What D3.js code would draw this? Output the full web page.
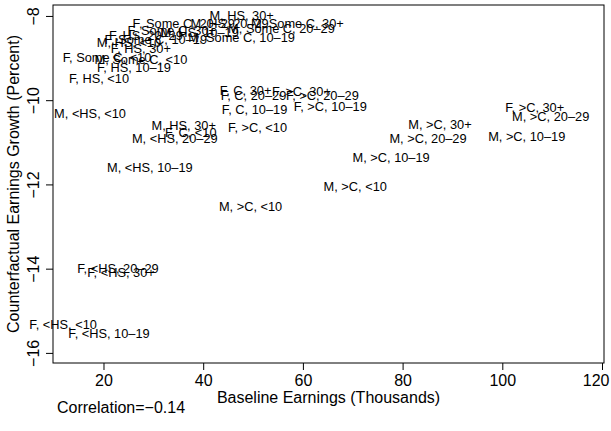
<!DOCTYPE html>
<html>
<head>
<meta charset="utf-8">
<script src="https://cdn.jsdelivr.net/npm/d3@7"></script>
<style>
  body { margin: 0; background: #fff; }
  text { font-family: "Liberation Sans", Arial, Helvetica, sans-serif; fill: #000; }
</style>
</head>
<body>
<script>
// data ///////////////////////////////////////////
const labels = [
  "M, HS, 30+", "F, Some C, 20–29", "M, HS, 20–29", "M, Some C, 30+",
  "M, Some C, 20–29", "F, Some C, 30+", "F, HS, 20–29", "M, Some C, 10–19",
  "F, Some C, 10–19", "M, HS, 10–19", "M, HS, <10", "F, HS, 30+",
  "F, Some C, <10", "M, Some C, <10", "F, HS, 10–19", "F, HS, <10",
  "M, <HS, <10", "M, <HS, 10–19", "M, <HS, 20–29", "M, HS, 30+",
  "F, C, <10", "F, >C, <10", "F, C, 10–19", "F, >C, 10–19",
  "F, C, 30+", "F, C, 20–29", "F, >C, 30+", "F, >C, 20–29",
  "F, >C, 30+", "M, >C, 20–29", "M, >C, 10–19", "M, >C, 30+",
  "M, >C, 20–29", "M, >C, 10–19", "M, >C, <10", "M, >C, <10",
  "F, <HS, 20–29", "F, <HS, 30+", "F, <HS, <10", "F, <HS, 10–19"
];
const baseline = [
  47.7, 36.1, 45.3, 58.9,
  55.7, 33.7, 28.5, 47.7,
  30.5, 39.3, 25.1, 27.5,
  20.7, 27.5, 26.1, 19.1,
  17.3, 29.3, 34.3, 36.1,
  37.5, 50.9, 50.3, 65.5,
  48.5, 50.1, 59.7, 63.9,
  106.5, 109.7, 104.9, 87.5,
  85.1, 77.7, 70.5, 49.5,
  22.9, 23.5, 11.9, 21.1
];
const growth = [
  -7.98, -8.17, -8.17, -8.17,
  -8.29, -8.34, -8.46, -8.50,
  -8.55, -8.39, -8.62, -8.77,
  -8.98, -9.03, -9.22, -9.48,
  -10.31, -11.59, -10.90, -10.59,
  -10.76, -10.64, -10.23, -10.14,
  -9.76, -9.88, -9.78, -9.88,
  -10.16, -10.38, -10.87, -10.57,
  -10.90, -11.35, -12.04, -12.53,
  -14.00, -14.10, -15.33, -15.54
];
const xTicks = [20, 40, 60, 80, 100, 120];
const yTicks = [-16, -14, -12, -10, -8];
const correlation = "−0.14";

// layout /////////////////////////////////////////
const width = 611, height = 431;
const mLeft = 53, mRight = 604, mTop = 5, mBottom = 363;

const svg = d3.select("body").append("svg")
  .attr("width", width)
  .attr("height", height);

const x = d3.scaleLinear().domain([9.87, 120.4]).range([mLeft, mRight]);
const y = d3.scaleLinear().domain([-16.24, -7.74]).range([mBottom, mTop]);

const fmt = d => String(d).replace("-", "−");

// x axis
const xAxis = svg.append("g")
  .attr("transform", `translate(0,${mBottom})`)
  .call(d3.axisBottom(x).tickValues(xTicks).tickSize(7).tickPadding(5).tickFormat(fmt));
xAxis.select(".domain").remove();
xAxis.selectAll("line").attr("stroke", "#000");
xAxis.selectAll("text").style("font-size", "16px").attr("font-family", null);
// keep the last tick label inside the window, as in the picture
xAxis.selectAll("text")
  .filter(d => d === 120)
  .attr("text-anchor", "end")
  .attr("x", width - 2 - x(120));

// y axis, labels turned like R does
const yAxis = svg.append("g")
  .attr("transform", `translate(${mLeft},0)`)
  .call(d3.axisLeft(y).tickValues(yTicks).tickSize(7).tickFormat(fmt));
yAxis.select(".domain").remove();
yAxis.selectAll("line").attr("stroke", "#000");
yAxis.selectAll("text")
  .style("font-size", "16px")
  .attr("x", null).attr("dy", null)
  .attr("text-anchor", "middle")
  .attr("transform", "translate(-14,0) rotate(-90)")
  .attr("y", 0);

// box
svg.append("rect")
  .attr("x", mLeft).attr("y", mTop)
  .attr("width", mRight - mLeft).attr("height", mBottom - mTop)
  .attr("fill", "none").attr("stroke", "#000").attr("stroke-width", 1);

// point labels
svg.append("g")
  .selectAll("text")
  .data(labels)
  .join("text")
  .attr("x", (d, i) => x(baseline[i]))
  .attr("y", (d, i) => y(growth[i]))
  .attr("dy", "0.36em")
  .attr("text-anchor", "middle")
  .style("font-size", "12.8px")
  .text(d => d);

// titles
svg.append("text")
  .attr("x", (mLeft + mRight) / 2).attr("y", 403)
  .attr("text-anchor", "middle")
  .style("font-size", "16px")
  .text("Baseline Earnings (Thousands)");

svg.append("text")
  .attr("transform", `translate(19,${(mTop + mBottom) / 2}) rotate(-90)`)
  .attr("text-anchor", "middle")
  .style("font-size", "16px")
  .text("Counterfactual Earnings Growth (Percent)");

svg.append("text")
  .attr("x", 57).attr("y", 413)
  .style("font-size", "16px")
  .text("Correlation=" + correlation);
</script>
</body>
</html>
